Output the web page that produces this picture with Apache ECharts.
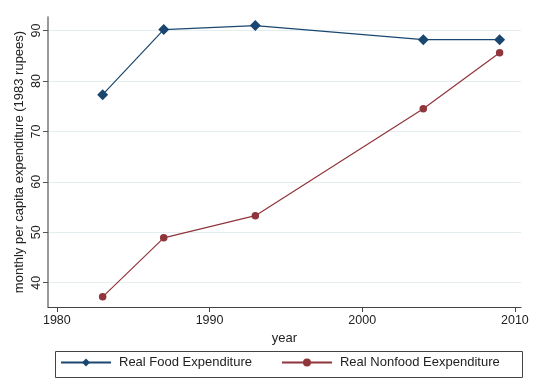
<!DOCTYPE html>
<html>
<head>
<meta charset="utf-8">
<script src="https://cdn.jsdelivr.net/npm/echarts@6/dist/echarts.min.js"></script>
<style>
html,body{margin:0;padding:0;background:#fff;}
#c{width:533px;height:392px;}
</style>
</head>
<body>
<div id="c"></div>
<script>
const years = [1983, 1987, 1993, 2004, 2009];
const foodValues = [77.3, 90.2, 91.0, 88.2, 88.2];
const nonfoodValues = [37.2, 48.9, 53.3, 74.5, 85.6];
const xTicks = [1980, 1990, 2000, 2010];
const yTicks = [40, 50, 60, 70, 80, 90];
const seriesNames = ['Real Food Expenditure', 'Real Nonfood Eexpenditure'];

const FONT = 'Liberation Sans, Arial, Helvetica, sans-serif';
const chart = echarts.init(document.getElementById('c'), null, {renderer: 'canvas'});
const pair = (xs, ys) => xs.map((x, i) => [x, ys[i]]);

chart.setOption({
  backgroundColor: '#fff',
  animation: false,
  textStyle: {fontFamily: FONT},
  grid: {left: 48, top: 17, right: 12, bottom: 85, containLabel: false},
  xAxis: {
    type: 'value',
    min: 1979.42, max: 2010.4,
    name: 'year', nameLocation: 'middle', nameGap: 24,
    nameTextStyle: {fontSize: 13, color: '#222', fontFamily: FONT},
    axisLine: {show: true, lineStyle: {color: '#444', width: 1}},
    axisTick: {show: true, length: 5, lineStyle: {color: '#444'}, customValues: xTicks},
    axisLabel: {customValues: xTicks, fontSize: 12.5, color: '#222', margin: 7, fontFamily: FONT,
      formatter: v => String(v)},
    splitLine: {show: false}
  },
  yAxis: {
    type: 'value',
    min: 35.18, max: 92.7,
    name: 'monthly per capita expenditure (1983 rupees)', nameLocation: 'middle', nameGap: 22,
    nameMoveOverlap: false,
    nameTextStyle: {fontSize: 13, color: '#222', fontFamily: FONT},
    axisLine: {show: true, lineStyle: {color: '#777', width: 1.5}},
    axisTick: {show: true, length: 5, lineStyle: {color: '#555'}, customValues: yTicks},
    axisLabel: {customValues: yTicks, rotate: 90, fontSize: 12.5, color: '#222', margin: 5, fontFamily: FONT,
      formatter: v => String(v)},
    splitLine: {show: true, lineStyle: {color: '#e4eef0', width: 1}}
  },
  legend: {
    left: 60, top: 356, padding: 0,
    itemWidth: 50, itemHeight: 10, itemGap: 29,
    textStyle: {fontSize: 13, color: '#222', fontFamily: FONT, padding: [0, 0, 0, 3]},
    data: seriesNames
  },
  graphic: [{
    type: 'rect', left: 53, top: 349, shape: {width: 467, height: 26},
    style: {fill: 'none', stroke: '#444', lineWidth: 1}, silent: true
  }],
  series: [
    {
      name: seriesNames[0], type: 'line', data: pair(years, foodValues),
      symbol: 'diamond', symbolSize: 11, showAllSymbol: true,
      itemStyle: {color: '#1a476f'}, lineStyle: {color: '#1a476f', width: 1.2}
    },
    {
      name: seriesNames[1], type: 'line', data: pair(years, nonfoodValues),
      symbol: 'circle', symbolSize: 7.5, showAllSymbol: true,
      itemStyle: {color: '#90353b'}, lineStyle: {color: '#90353b', width: 1.2}
    }
  ]
});
</script>
</body>
</html>
